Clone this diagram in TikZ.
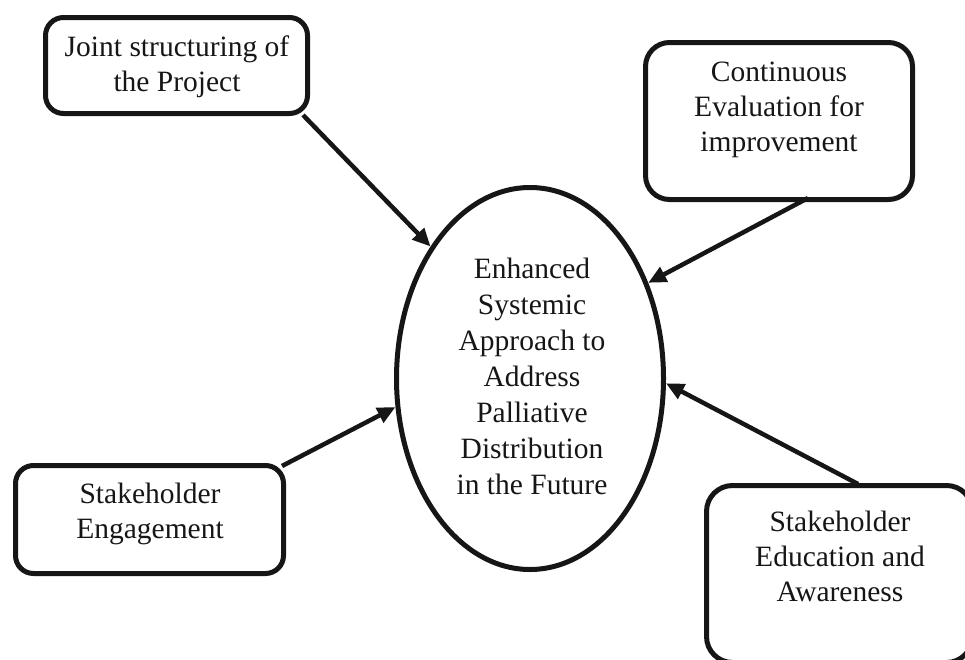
\documentclass[tikz,border=0pt]{standalone}
\usepackage{fontspec}
\setmainfont{Liberation Serif}
\usetikzlibrary{shapes.geometric,arrows.meta}
\definecolor{ink}{HTML}{161616}
\tikzset{
  box/.style={draw=ink, line width=5pt, rounded corners=#1, inner sep=0pt},
  box/.default=18pt,
  txt/.style={align=center, inner sep=0pt, text=ink, font=\fontsize{29.5}{35}\selectfont},
  conn/.style={draw=ink, line width=4.5pt, -{Triangle[length=18pt,width=16pt]}},
}
\begin{document}
\begin{tikzpicture}[x=1pt,y=-1pt]
\useasboundingbox (0,0) rectangle (965,659);
% boxes
\node[box, minimum width=262pt, minimum height=96pt] (b1) at (176.5,65.5) {};
\node[txt] (t1) at (177,67) {Joint structuring of\\the Project};
\node[box=24pt, minimum width=267pt, minimum height=157pt] (b2) at (779,121) {};
\node[txt] (t2) at (779,110) {Continuous\\Evaluation for\\improvement};
\node[box, minimum width=268pt, minimum height=108pt] (b3) at (149.5,519.5) {};
\node[txt] (t3) at (150,514) {Stakeholder\\Engagement};
\node[box=26pt, minimum width=266pt, minimum height=177pt] (b4) at (839.5,574) {};
\node[txt] (t4) at (840,556) {Stakeholder\\Education and\\Awareness};
% ellipse
\node[ellipse, draw=ink, line width=5pt, minimum width=267pt, minimum height=382pt, inner sep=0pt] (ell) at (530,378.5) {};
\node[txt, font=\fontsize{29.5}{36}\selectfont] (et) at (532,376) {Enhanced\\Systemic\\Approach to\\Address\\Palliative\\Distribution\\in the Future};
% connectors
\draw[conn] ([xshift=-7pt,yshift=1pt]b1.south east) -- (ell.127);
\draw[conn] ([xshift=29pt,yshift=4pt]b2.south) -- (ell.39);
\draw[conn] ([xshift=-4pt,yshift=-3pt]b3.north east) -- (ell.192.5);
\draw[conn] ([xshift=18.5pt,yshift=-1pt]b4.north) -- (ell.-2.3);
\end{tikzpicture}
\end{document}
